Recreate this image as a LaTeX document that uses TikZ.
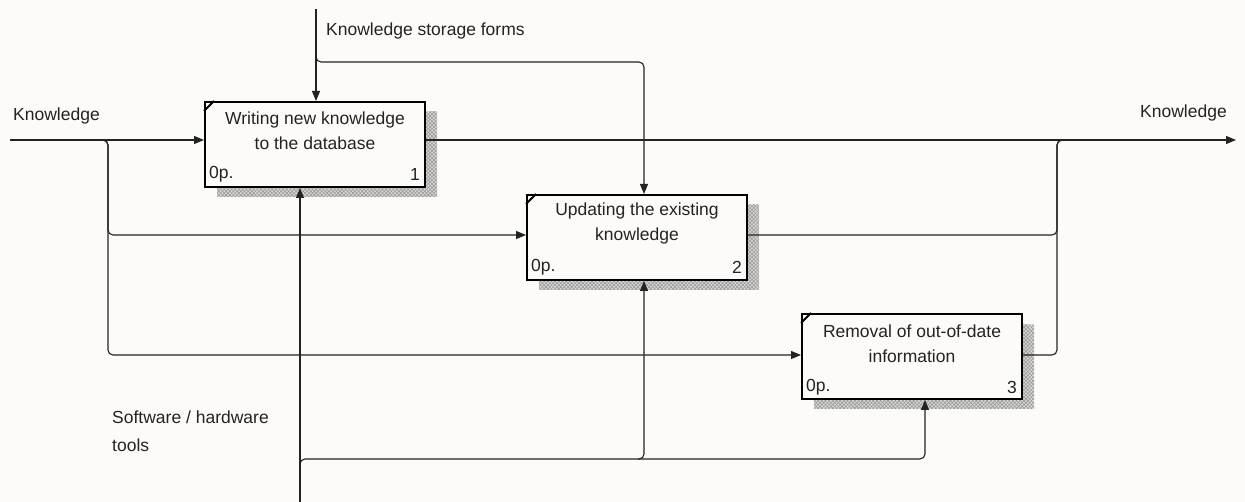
\documentclass[tikz,border=0pt]{standalone}
\usepackage{fontspec}
\setmainfont{Liberation Sans}
\usetikzlibrary{arrows.meta,patterns.meta,calc}
\definecolor{bg}{RGB}{253,251,247}
\definecolor{ink}{RGB}{35,35,35}
\begin{document}
\begin{tikzpicture}[x=1pt,y=-1pt,
  lbl/.style={font=\fontsize{17.5}{25}\selectfont, text=ink, inner sep=0pt},
  proc/.style={draw=black, line width=2pt, fill=bg, minimum width=220pt, minimum height=85pt, inner sep=0pt},
  conn/.style={draw=ink, line width=1.1pt, rounded corners=5pt},
  arr/.style={conn, -{Triangle[length=10pt,width=8pt]}},
  shadowfill/.style={preaction={fill=gray!30}, pattern={Hatch[angle=45,distance=2.6pt,line width=0.6pt]}, pattern color=gray!80},
  tick/.style={draw=black, line width=1.8pt}
]
\useasboundingbox (0,0) rectangle (1245,502);
\fill[bg] (0,0) rectangle (1245,502);

% shadows
\path[shadowfill] (217,112) rectangle (437,197);
\path[shadowfill] (539,205) rectangle (759,290);
\path[shadowfill] (814,325) rectangle (1034,409);

% boxes
\node[proc] (b1) at (315,144.5) {};
\node[proc] (b2) at (637,237.5) {};
\node[proc] (b3) at (912,356.5) {};
\draw[tick] ([yshift=-10pt]b1.north west) -- ([xshift=10pt]b1.north west);
\draw[tick] ([yshift=-10pt]b2.north west) -- ([xshift=10pt]b2.north west);
\draw[tick] ([yshift=-10pt]b3.north west) -- ([xshift=10pt]b3.north west);

\node[lbl, align=center] (b1t) at (315,130.5) {Writing new knowledge\\to the database};
\node[lbl, anchor=west] (b1o) at (209,174) {0p.};
\node[lbl, anchor=east] (b1n) at (420,174) {1};
\node[lbl, align=center] (b2t) at (637,223.5) {Updating the existing\\knowledge};
\node[lbl, anchor=west] (b2o) at (531,267) {0p.};
\node[lbl, anchor=east] (b2n) at (742,267) {2};
\node[lbl, align=center] (b3t) at (912,343.5) {Removal of out-of-date\\information};
\node[lbl, anchor=west] (b3o) at (806,387) {0p.};
\node[lbl, anchor=east] (b3n) at (1017,387) {3};

% labels
\node[lbl, anchor=west] (lk1) at (13,116) {Knowledge};
\node[lbl, anchor=east] (lk2) at (1227,113) {Knowledge};
\node[lbl, anchor=west] (lc) at (326,31) {Knowledge storage forms};
\node[lbl, anchor=west, align=left, font=\fontsize{17.5}{28}\selectfont] (lm) at (112,431) {Software / hardware\\tools};

% coordinates
\coordinate (kin) at (10,140);
\coordinate (kout) at (1236,140);
\coordinate (y2) at (0,235);
\coordinate (y3) at (0,355);
\coordinate (ctop) at (316,9);
\coordinate (c2) at (644,62);
\coordinate (mbot) at (300,502);
\coordinate (m2) at (644,459);
\coordinate (m3) at (925,459);
\coordinate (o) at (1057,140);

% inputs
\draw[arr] (kin) -- (kin -| b1.west);
\draw[arr] (102,140) -| (108,235) -- (b2.west |- y2);
\draw[arr] (102,140) -| (108,355) -- (b3.west |- y3);

% controls
\draw[arr] (ctop) -- (ctop |- b1.north);
\draw[arr] (316,56) |- (c2) -- (c2 |- b2.north);

% mechanisms
\draw[arr] (mbot) -- (mbot |- b1.south);
\draw[arr] (300,466) |- (m3) -- (m3 |- b3.south);
\draw[arr] ($(m2)+(-6,0)$) -| (m2 |- b2.south);

% outputs
\draw[arr] (b1.east |- kin) -- (kout);
\draw[conn] (b2.east |- y2) -| (o) -- ++(6,0);
\draw[conn] (b3.east |- y3) -| (o) -- ++(6,0);
\end{tikzpicture}
\end{document}
